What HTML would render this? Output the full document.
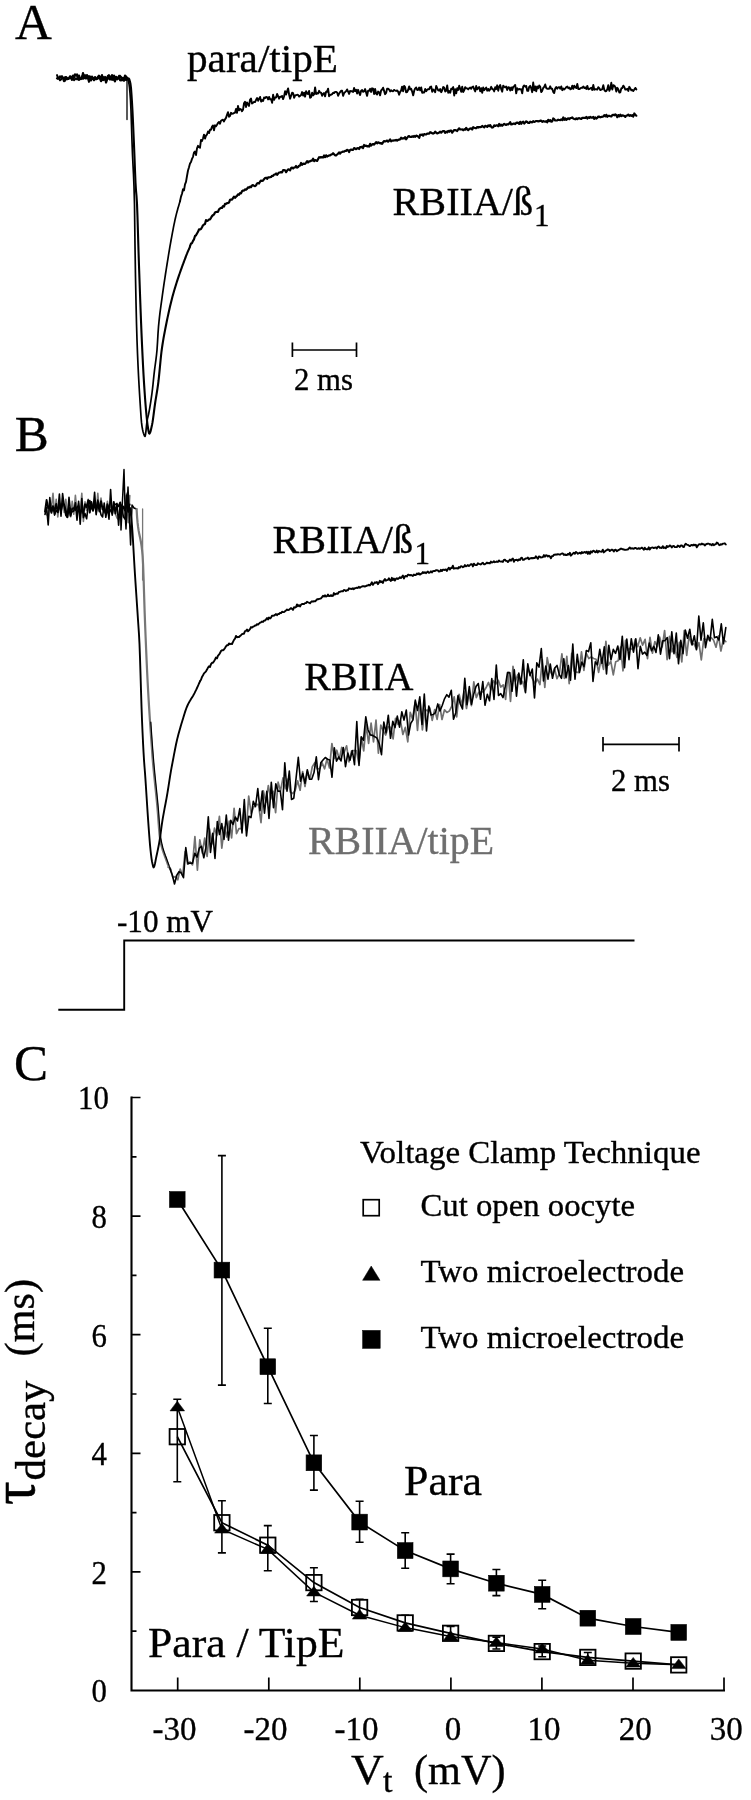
<!DOCTYPE html>
<html lang="en">
<head>
<meta charset="utf-8">
<title>Figure: sodium current decay, para/tipE vs RBIIA</title>
<style>
html,body{margin:0;padding:0;background:#fff;}
svg{display:block;will-change:transform;}
text{font-family:"Liberation Serif", "DejaVu Serif", serif;}
</style>
</head>
<body>
<svg width="751" height="1800" viewBox="0 0 751 1800">
<rect width="751" height="1800" fill="#fff"/>
<g fill="none" stroke="#000" stroke-linejoin="round" stroke-linecap="round">
<path d="M57.0 78.3L58.0 78.9L59.0 77.7L60.0 76.4L61.0 77.3L62.0 76.2L63.0 78.4L64.0 81.1L65.0 77.3L66.0 77.0L67.0 79.3L68.0 79.0L69.0 78.5L70.0 76.3L71.0 78.2L72.0 79.8L73.0 75.5L74.0 77.3L75.0 74.3L76.0 75.6L77.0 74.4L78.0 77.8L79.0 75.6L80.0 78.9L81.0 78.6L82.0 77.9L83.0 73.0L84.0 77.2L85.0 78.2L86.0 78.5L87.0 75.1L88.0 77.3L89.0 76.2L90.0 76.6L91.0 80.5L92.0 76.6L93.0 78.2L94.0 80.2L95.0 77.1L96.0 78.1L97.0 78.5L98.0 78.4L99.0 75.7L100.0 78.5L101.0 81.2L102.0 75.1L103.0 80.1L104.0 78.6L105.0 77.0L106.0 82.5L107.0 79.9L108.0 75.8L109.0 78.5L110.0 79.5L111.0 77.9L112.0 79.7L113.0 78.2L114.0 79.7L115.0 81.3L116.0 76.9L117.0 78.7L118.0 77.3L119.0 78.6L120.0 75.8L121.0 77.1L122.0 77.9L123.0 80.2L124.0 80.7L125.0 75.5L126.0 76.6L127.0 79.7" stroke-width="2.2"/>
<path d="M57.0 75.1L58.0 77.6L59.0 78.1L60.0 80.3L61.0 79.4L62.0 77.8L63.0 77.7L64.0 77.9L65.0 80.7L66.0 77.6L67.0 77.8L68.0 78.9L69.0 78.1L70.0 78.0L71.0 76.5L72.0 78.3L73.0 77.6L74.0 80.2L75.0 79.3L76.0 78.3L77.0 79.4L78.0 77.8L79.0 80.0L80.0 78.3L81.0 79.2L82.0 76.2L83.0 78.9L84.0 75.6L85.0 75.0L86.0 77.8L87.0 76.9L88.0 78.6L89.0 81.9L90.0 77.0L91.0 77.3L92.0 78.6L93.0 79.1L94.0 78.0L95.0 78.0L96.0 79.4L97.0 79.1L98.0 76.6L99.0 78.2L100.0 78.4L101.0 76.6L102.0 78.7L103.0 76.9L104.0 79.9L105.0 78.6L106.0 78.4L107.0 77.4L108.0 78.1L109.0 75.1L110.0 76.5L111.0 78.9L112.0 74.9L113.0 79.7L114.0 75.5L115.0 79.5L116.0 76.9L117.0 79.5L118.0 78.5L119.0 75.8L120.0 80.3L121.0 80.6L122.0 78.2L123.0 77.9L124.0 78.0L125.0 76.7L126.0 80.1L127.0 77.4" stroke-width="2"/>
<path d="M127 78L127 119.5" stroke-width="1.3"/>
<path d="M127.5 78.3L128.0 79.2L128.5 81.3L129.0 84.0L129.5 87.7L130.0 93.1L130.5 100.0L131.0 110.8L131.5 125.8L132.0 141.6L132.5 154.8L133.0 164.9L133.5 174.5L134.0 186.6L134.5 204.9L135.0 245.6L135.5 276.8L136.0 302.0L136.5 323.2L137.0 340.0L137.5 353.4L138.0 365.0L138.5 375.3L139.0 384.5L139.5 393.0L140.0 400.9L140.5 408.7L141.0 416.2L141.5 422.4L142.0 426.3L142.5 429.2L143.0 431.5L143.5 433.2L144.0 434.7L144.5 435.9L145.0 436.4L145.5 434.7L146.0 430.6L146.5 425.6L147.0 421.3L147.5 418.6L148.0 416.6L148.5 414.5L149.0 412.0L149.5 409.3L150.0 406.4L150.5 403.3L151.0 400.1L151.5 396.6L152.0 393.0L152.5 388.9L153.0 384.3L153.5 379.4L154.0 374.7L154.5 370.3L155.0 366.5L155.5 362.9L156.0 359.2L156.5 355.0L157.0 350.0L157.5 342.5L158.0 333.6L158.5 326.7L159.0 321.5L159.5 316.8L160.0 312.6L160.5 308.8L161.0 305.1L161.5 301.6L162.0 298.1L162.5 294.4L163.0 290.8L163.5 287.3L164.0 283.9L164.5 280.6L165.0 277.3L165.5 274.0L166.0 270.9L166.5 267.7L167.0 264.5L167.5 261.4L168.0 258.3L168.5 255.2L169.0 252.1L169.5 249.1L170.0 246.2L170.5 243.3L171.0 240.5L171.5 237.8L172.0 235.1L172.5 232.4L173.0 229.8L173.5 227.2L174.0 224.7L174.5 222.3L175.0 219.9L175.5 217.7L176.0 215.6L176.5 213.6L177.0 211.7L177.5 209.9L178.0 208.1L178.5 206.4L179.0 204.7L179.5 203.0L180.0 201.4" stroke-width="1.7"/>
<path d="M180.0 201.3L181.0 196.6L182.0 193.7L183.0 189.3L184.0 190.4L185.0 184.3L186.0 181.9L187.0 176.0L188.0 170.5L189.0 167.2L190.0 163.6L191.0 162.0L192.0 158.9L193.0 156.8L194.0 152.4L195.0 151.6L196.0 155.0L197.0 148.3L198.0 145.8L199.0 147.1L200.0 147.7L201.0 139.9L202.0 141.0L203.0 138.5L204.0 134.6L205.0 138.6L206.0 135.6L207.0 134.5L208.0 131.5L209.0 133.1L210.0 129.8L211.0 129.7L212.0 126.6L213.0 125.5L214.0 130.3L215.0 125.3L216.0 126.3L217.0 124.7L218.0 123.0L219.0 122.0L220.0 123.7L221.0 120.7L222.0 120.1L223.0 119.7L224.0 121.4L225.0 119.4L226.0 117.9L227.0 114.9L228.0 112.2L229.0 116.7L230.0 116.0L231.0 112.8L232.0 113.7L233.0 113.6L234.0 113.0L235.0 112.7L236.0 108.9L237.0 112.9L238.0 106.0L239.0 110.3L240.0 109.0L241.0 109.3L242.0 111.2L243.0 109.8L244.0 103.3L245.0 101.7L246.0 107.0L247.0 102.4L248.0 104.3L249.0 105.9L250.0 99.9L251.0 98.5L252.0 103.6L253.0 102.8L254.0 101.8L255.0 102.1L256.1 99.8L257.1 98.0L258.1 100.8L259.1 98.7L260.1 96.9L261.1 101.6L262.1 100.1L263.1 100.9L264.1 97.5L265.1 98.0L266.1 97.0L267.1 97.1L268.1 99.4L269.1 96.9L270.1 99.3L271.1 99.1L272.1 102.8L273.1 94.8L274.1 99.9L275.1 97.4L276.1 97.5L277.1 94.0L278.1 96.1L279.1 98.7L280.1 96.7L281.1 96.9L282.1 95.9L283.1 99.1L284.1 96.3L285.1 91.2L286.1 94.5L287.1 91.4L288.1 88.4L289.1 94.5L290.1 98.7L291.1 95.6L292.1 92.7L293.1 93.1L294.1 97.8L295.1 95.5L296.1 95.1L297.1 94.8L298.1 94.9L299.1 96.6L300.1 95.9L301.1 95.0L302.1 92.1L303.1 95.6L304.1 92.7L305.1 96.7L306.1 91.2L307.1 93.7L308.1 94.0L309.1 90.9L310.1 97.8L311.1 97.1L312.1 92.6L313.1 95.4L314.1 94.4L315.1 87.5L316.1 94.0L317.1 93.2L318.1 93.5L319.1 90.8L320.1 92.6L321.1 92.7L322.1 95.8L323.1 93.8L324.1 93.0L325.1 96.4L326.1 91.6L327.1 91.9L328.1 88.6L329.1 96.3L330.1 94.9L331.1 94.7L332.1 94.1L333.1 92.8L334.1 93.0L335.1 91.9L336.1 91.9L337.1 92.5L338.1 95.8L339.1 93.5L340.1 92.1L341.1 90.8L342.1 90.7L343.1 95.8L344.1 93.2L345.1 92.2L346.1 91.2L347.1 89.4L348.1 91.7L349.1 93.9L350.1 90.9L351.1 91.3L352.1 91.3L353.1 92.0L354.1 88.0L355.1 91.1L356.1 89.7L357.1 93.6L358.1 89.8L359.1 92.9L360.1 95.0L361.1 90.7L362.1 90.0L363.1 91.8L364.1 91.4L365.1 89.1L366.1 92.4L367.1 95.9L368.1 90.7L369.1 90.8L370.1 88.8L371.1 91.9L372.1 88.3L373.1 88.6L374.1 94.0L375.1 89.0L376.1 93.5L377.1 94.5L378.1 91.6L379.1 92.2L380.1 95.4L381.1 90.5L382.1 89.5L383.1 87.7L384.1 90.9L385.1 94.2L386.1 93.0L387.1 88.6L388.1 88.8L389.1 89.6L390.1 91.4L391.1 90.2L392.1 91.1L393.1 91.3L394.1 89.9L395.1 90.5L396.1 91.0L397.1 90.4L398.1 91.7L399.1 94.8L400.1 91.9L401.1 90.6L402.1 86.6L403.1 91.3L404.1 85.9L405.1 87.2L406.1 92.3L407.1 92.0L408.1 90.0L409.2 86.4L410.2 89.4L411.2 88.7L412.2 91.7L413.2 95.4L414.2 90.7L415.2 88.4L416.2 87.5L417.2 90.0L418.2 89.8L419.2 87.5L420.2 90.4L421.2 87.5L422.2 92.7L423.2 92.5L424.2 92.6L425.2 89.0L426.2 91.2L427.2 89.7L428.2 89.1L429.2 89.2L430.2 87.0L431.2 86.6L432.2 91.8L433.2 89.5L434.2 90.4L435.2 92.2L436.2 85.9L437.2 88.1L438.2 90.3L439.2 90.7L440.2 89.0L441.2 92.2L442.2 90.3L443.2 87.0L444.2 87.6L445.2 91.6L446.2 90.8L447.2 85.4L448.2 92.8L449.2 91.1L450.2 92.8L451.2 88.8L452.2 89.0L453.2 87.1L454.2 95.5L455.2 89.2L456.2 93.3L457.2 88.1L458.2 90.0L459.2 85.7L460.2 88.7L461.2 91.8L462.2 86.7L463.2 92.0L464.2 90.3L465.2 87.1L466.2 88.4L467.2 88.4L468.2 89.4L469.2 88.2L470.2 87.6L471.2 88.8L472.2 87.1L473.2 86.5L474.2 89.3L475.2 91.4L476.2 85.9L477.2 89.4L478.2 87.9L479.2 87.1L480.2 91.3L481.2 88.2L482.2 92.8L483.2 87.5L484.2 90.2L485.2 88.8L486.2 87.6L487.2 90.7L488.2 88.9L489.2 90.7L490.2 89.2L491.2 86.8L492.2 89.0L493.2 89.4L494.2 91.4L495.2 87.2L496.2 89.1L497.2 85.3L498.2 90.7L499.2 86.7L500.2 85.0L501.2 89.1L502.2 91.7L503.2 85.7L504.2 86.7L505.2 87.4L506.2 86.6L507.2 90.0L508.2 87.3L509.2 87.5L510.2 90.5L511.2 87.4L512.2 90.1L513.2 86.9L514.2 86.3L515.2 84.9L516.2 93.4L517.2 88.3L518.2 89.6L519.2 89.0L520.2 89.4L521.2 89.2L522.2 93.4L523.2 86.6L524.2 85.4L525.2 86.7L526.2 85.9L527.2 90.7L528.2 90.9L529.2 86.8L530.2 85.8L531.2 88.2L532.2 92.2L533.2 82.5L534.2 90.2L535.2 86.5L536.2 91.3L537.2 86.5L538.2 88.3L539.2 85.5L540.2 86.7L541.2 92.1L542.2 90.8L543.2 88.0L544.2 86.9L545.2 84.5L546.2 88.0L547.2 88.8L548.2 88.7L549.2 88.7L550.2 86.3L551.2 88.7L552.2 88.8L553.2 91.8L554.2 93.1L555.2 88.5L556.2 87.1L557.2 88.7L558.2 87.4L559.2 87.1L560.2 88.7L561.3 86.4L562.3 90.2L563.3 88.6L564.3 89.4L565.3 88.4L566.3 87.1L567.3 86.6L568.3 88.2L569.3 87.5L570.3 89.3L571.3 88.8L572.3 85.6L573.3 88.9L574.3 85.7L575.3 87.3L576.3 88.1L577.3 84.0L578.3 89.0L579.3 89.1L580.3 88.4L581.3 87.8L582.3 87.9L583.3 86.5L584.3 88.1L585.3 87.4L586.3 88.9L587.3 85.9L588.3 89.2L589.3 89.0L590.3 88.4L591.3 87.7L592.3 90.0L593.3 84.9L594.3 89.7L595.3 89.2L596.3 89.3L597.3 89.6L598.3 87.2L599.3 88.1L600.3 90.1L601.3 89.7L602.3 89.1L603.3 85.2L604.3 89.9L605.3 91.3L606.3 91.0L607.3 89.2L608.3 85.1L609.3 90.8L610.3 88.3L611.3 82.8L612.3 89.5L613.3 85.2L614.3 85.6L615.3 87.2L616.3 91.5L617.3 87.8L618.3 89.2L619.3 92.6L620.3 92.3L621.3 88.4L622.3 88.0L623.3 85.7L624.3 87.0L625.3 89.6L626.3 89.5L627.3 88.8L628.3 90.9L629.3 86.8L630.3 88.4L631.3 90.3L632.3 89.9L633.3 91.0L634.3 89.5L635.3 87.9L636.3 89.4" stroke-width="1.9"/>
<path d="M128.5 78.3L129.0 78.7L129.5 80.0L130.0 81.8L130.5 84.0L131.0 88.2L131.5 94.9L132.0 102.6L132.5 111.5L133.0 122.0L133.5 133.5L134.0 145.0L134.5 157.4L135.0 170.7L135.5 182.5L136.0 190.7L136.5 196.0L137.0 203.8L137.5 217.2L138.0 233.9L138.5 250.8L139.0 265.7L139.5 279.9L140.0 294.0L140.5 307.7L141.0 320.8L141.5 333.1L142.0 344.4L142.5 355.0L143.0 365.0L143.5 374.2L144.0 382.6L144.5 390.3L145.0 397.5L145.5 404.2L146.0 410.2L146.5 415.5L147.0 420.4L147.5 424.6L148.0 428.0L148.5 431.0L149.0 433.2L149.5 433.6L150.0 432.8L150.5 431.4L151.0 429.4L151.5 427.2L152.0 425.0L152.5 422.4L153.0 419.1L153.5 415.4L154.0 411.5L154.5 407.6L155.0 404.0L155.5 400.7L156.0 397.7L156.5 394.6L157.0 391.5L157.5 388.3L158.0 384.8L158.5 381.0L159.0 376.4L159.5 371.4L160.0 366.1L160.5 360.9L161.0 355.9L161.5 351.5L162.0 347.9L162.5 344.5L163.0 341.4L163.5 338.4L164.0 335.6L164.5 333.0L165.0 330.4L165.5 327.8L166.0 325.3L166.5 322.8L167.0 320.3L167.5 317.9L168.0 315.6L168.5 313.3L169.0 311.0L169.5 308.8L170.0 306.6L170.5 304.5L171.0 302.5L171.5 300.5L172.0 298.5L172.5 296.6L173.0 294.8L173.5 293.0L174.0 291.3L174.5 289.5L175.0 287.9L175.5 286.2L176.0 284.6L176.5 283.0L177.0 281.4L177.5 279.9L178.0 278.4L178.5 276.9L179.0 275.4L179.5 274.0L180.0 272.5L180.5 271.1L181.0 269.7L181.5 268.3L182.0 266.9L182.5 265.5L183.0 264.2L183.5 262.8L184.0 261.5L184.5 260.1L185.0 258.8L185.5 257.5L186.0 256.2L186.5 254.9L187.0 253.7L187.5 252.4L188.0 251.2L188.5 250.1L189.0 249.0L189.5 247.9L190.0 246.8" stroke-width="2.1"/>
<path d="M190.0 246.1L191.0 243.6L192.0 243.2L193.0 240.8L194.0 239.3L195.0 236.0L196.0 235.3L197.0 233.5L198.0 231.8L199.0 229.3L200.0 229.4L201.0 229.0L202.0 227.3L203.0 225.3L204.0 224.5L205.0 224.0L206.0 220.1L207.0 221.0L208.0 220.5L209.0 219.5L210.0 219.3L211.0 217.8L212.0 216.1L213.0 215.1L214.0 214.5L215.0 212.5L216.0 212.0L217.0 211.8L218.0 211.8L219.0 209.3L220.0 208.5L221.0 207.9L222.0 208.0L223.0 206.1L224.0 206.6L225.0 203.9L226.0 203.8L227.0 203.1L228.0 203.1L229.0 202.6L230.0 199.8L231.0 199.5L232.0 199.7L233.0 198.2L234.0 196.7L235.0 197.9L236.0 196.7L237.0 195.9L238.0 194.4L239.0 194.8L240.0 193.1L241.0 193.4L242.0 191.2L243.0 190.5L244.0 190.7L245.0 189.3L246.0 189.8L247.0 188.9L248.0 187.4L249.0 187.6L250.0 186.7L251.0 187.2L252.0 185.4L253.0 185.0L254.0 185.8L255.0 186.1L256.0 185.4L257.0 183.4L258.0 183.0L259.0 183.5L260.0 181.7L261.0 180.5L262.0 180.9L263.0 180.7L264.0 179.2L265.1 178.0L266.1 177.7L267.1 178.9L268.1 177.3L269.1 177.3L270.1 177.2L271.1 177.0L272.1 175.8L273.1 176.0L274.1 174.5L275.1 174.5L276.1 173.5L277.1 174.8L278.1 173.5L279.1 172.5L280.1 172.4L281.1 172.1L282.1 172.4L283.1 170.1L284.1 170.2L285.1 170.3L286.1 172.2L287.1 170.6L288.1 169.3L289.1 169.6L290.1 170.3L291.1 168.1L292.1 167.6L293.1 168.5L294.1 167.5L295.1 167.3L296.1 166.0L297.1 167.6L298.1 167.0L299.1 165.8L300.1 165.5L301.1 163.0L302.1 164.8L303.1 163.7L304.1 163.9L305.1 163.8L306.1 162.6L307.1 161.2L308.1 162.5L309.1 161.3L310.1 161.3L311.1 160.7L312.1 160.6L313.1 158.7L314.1 161.2L315.1 160.1L316.1 160.5L317.1 160.9L318.1 159.0L319.1 157.2L320.1 157.6L321.1 157.1L322.1 157.3L323.1 157.5L324.1 155.5L325.1 157.1L326.1 155.3L327.1 156.5L328.1 155.9L329.1 155.4L330.1 155.3L331.1 154.6L332.1 154.3L333.1 153.2L334.1 154.2L335.1 155.4L336.1 155.3L337.1 154.5L338.1 153.7L339.1 152.3L340.1 153.7L341.1 152.3L342.1 152.0L343.1 151.5L344.1 151.6L345.1 150.9L346.1 150.9L347.1 149.9L348.1 150.2L349.1 152.0L350.1 149.9L351.1 149.5L352.1 149.9L353.1 149.8L354.1 148.1L355.1 148.6L356.1 149.2L357.1 148.4L358.1 148.1L359.1 149.0L360.1 147.0L361.1 147.3L362.1 146.6L363.1 148.0L364.1 145.0L365.1 145.8L366.1 145.7L367.1 146.4L368.1 146.1L369.1 146.5L370.1 143.9L371.1 145.6L372.1 144.5L373.1 144.0L374.1 144.7L375.1 143.4L376.1 142.2L377.1 143.4L378.1 142.3L379.1 142.7L380.1 143.3L381.1 143.1L382.1 143.9L383.1 142.2L384.1 141.0L385.1 141.4L386.1 141.1L387.1 140.6L388.1 141.7L389.1 140.7L390.1 139.4L391.1 141.3L392.1 140.5L393.1 140.7L394.1 140.3L395.1 140.5L396.1 139.8L397.1 140.6L398.1 139.8L399.1 139.6L400.1 139.4L401.1 137.7L402.1 138.6L403.1 138.3L404.1 138.5L405.1 137.1L406.1 139.3L407.1 137.9L408.1 136.6L409.1 136.1L410.1 137.0L411.1 137.0L412.1 136.3L413.1 136.8L414.2 136.0L415.2 136.8L416.2 135.6L417.2 136.0L418.2 136.6L419.2 137.8L420.2 134.7L421.2 135.0L422.2 134.5L423.2 135.7L424.2 134.0L425.2 134.3L426.2 134.5L427.2 133.6L428.2 133.5L429.2 133.7L430.2 132.2L431.2 132.6L432.2 133.3L433.2 133.6L434.2 133.1L435.2 131.7L436.2 132.6L437.2 133.5L438.2 133.1L439.2 132.5L440.2 131.7L441.2 132.7L442.2 131.6L443.2 131.0L444.2 131.2L445.2 132.8L446.2 131.7L447.2 132.3L448.2 130.9L449.2 131.8L450.2 130.5L451.2 130.7L452.2 132.7L453.2 131.2L454.2 130.0L455.2 130.2L456.2 130.4L457.2 131.0L458.2 129.5L459.2 128.3L460.2 129.4L461.2 129.5L462.2 129.4L463.2 130.3L464.2 129.3L465.2 129.6L466.2 127.9L467.2 129.4L468.2 130.2L469.2 129.1L470.2 128.5L471.2 128.3L472.2 129.5L473.2 127.2L474.2 127.7L475.2 128.1L476.2 128.2L477.2 127.1L478.2 127.6L479.2 127.0L480.2 127.2L481.2 126.9L482.2 126.0L483.2 126.7L484.2 127.3L485.2 125.8L486.2 126.2L487.2 126.8L488.2 125.3L489.2 126.2L490.2 125.1L491.2 126.8L492.2 127.6L493.2 127.2L494.2 125.3L495.2 126.0L496.2 125.4L497.2 125.3L498.2 126.3L499.2 123.9L500.2 125.7L501.2 124.7L502.2 125.8L503.2 124.7L504.2 123.9L505.2 124.6L506.2 124.9L507.2 124.2L508.2 124.5L509.2 123.5L510.2 122.2L511.2 124.5L512.2 124.2L513.2 123.7L514.2 123.5L515.2 124.2L516.2 122.9L517.2 122.6L518.2 122.9L519.2 123.9L520.2 121.8L521.2 123.8L522.2 122.2L523.2 121.7L524.2 123.5L525.2 122.4L526.2 121.3L527.2 122.0L528.2 122.9L529.2 123.0L530.2 121.7L531.2 122.2L532.2 122.4L533.2 121.2L534.2 121.9L535.2 121.5L536.2 121.0L537.2 121.0L538.2 121.4L539.2 121.2L540.2 120.7L541.2 120.7L542.2 121.9L543.2 121.1L544.2 121.5L545.2 121.7L546.2 121.1L547.2 122.4L548.2 119.8L549.2 121.1L550.2 120.1L551.2 121.7L552.2 121.5L553.2 118.5L554.2 119.2L555.2 120.5L556.2 120.5L557.2 120.4L558.2 119.7L559.2 120.0L560.2 120.1L561.2 119.4L562.3 120.2L563.3 117.5L564.3 119.8L565.3 118.4L566.3 119.9L567.3 118.9L568.3 118.3L569.3 119.2L570.3 118.1L571.3 118.0L572.3 117.4L573.3 118.6L574.3 119.0L575.3 119.3L576.3 118.3L577.3 119.2L578.3 118.3L579.3 118.2L580.3 118.6L581.3 118.9L582.3 117.8L583.3 117.8L584.3 117.8L585.3 117.9L586.3 117.0L587.3 118.5L588.3 117.3L589.3 117.9L590.3 116.9L591.3 117.7L592.3 117.7L593.3 117.0L594.3 118.9L595.3 117.5L596.3 118.6L597.3 117.9L598.3 116.5L599.3 116.7L600.3 117.3L601.3 116.9L602.3 116.8L603.3 116.5L604.3 115.2L605.3 116.4L606.3 114.8L607.3 116.8L608.3 115.9L609.3 115.8L610.3 116.2L611.3 116.5L612.3 115.1L613.3 114.8L614.3 115.3L615.3 114.4L616.3 115.2L617.3 117.2L618.3 115.1L619.3 116.4L620.3 114.7L621.3 116.0L622.3 115.4L623.3 115.6L624.3 116.0L625.3 116.9L626.3 115.6L627.3 115.5L628.3 114.6L629.3 115.8L630.3 115.1L631.3 115.9L632.3 115.1L633.3 116.5L634.3 113.5L635.3 114.8L636.3 115.7" stroke-width="2.2"/>
<path d="M292.4 350H356.5M292.4 342.5V357M356.5 342.5V357" stroke-width="1.7" stroke-linecap="butt"/>
</g>
<g fill="none" stroke-linejoin="round" stroke-linecap="round">
<path d="M45.0 511.9L46.6 514.8L48.2 513.5L49.8 501.2L51.4 508.3L53.0 493.3L54.6 514.4L56.2 499.4L57.8 517.0L59.4 504.3L61.0 512.6L62.6 498.3L64.2 512.4L65.8 499.3L67.4 512.9L69.0 510.8L70.6 516.8L72.2 501.4L73.8 514.3L75.4 495.4L77.0 512.4L78.6 503.4L80.2 514.7L81.8 493.3L83.4 521.4L85.0 501.7L86.6 510.4L88.2 499.4L89.8 510.0L91.4 503.5L93.0 506.0L94.6 503.9L96.2 513.9L97.8 493.3L99.4 511.9L101.0 498.0L102.6 509.7L104.2 512.2L105.8 513.0L107.4 501.3L109.0 512.0L110.6 503.5L112.2 509.9L113.8 504.2L115.4 513.9L117.0 518.0L118.6 519.7L120.2 505.3L121.8 514.8L123.4 509.1L125.0 509.9L126.6 493.3L128.2 522.6L129.8 495.6" stroke="#777" stroke-width="1.6"/>
<path d="M45.0 514.4L46.6 507.3L48.2 525.0L49.8 497.5L51.4 511.6L53.0 505.9L54.6 515.1L56.2 510.3L57.8 512.0L59.4 494.1L61.0 516.1L62.6 493.5L64.2 505.9L65.8 515.3L67.4 517.4L69.0 497.3L70.6 512.3L72.2 511.7L73.8 511.0L75.4 502.9L77.0 520.3L78.6 501.4L80.2 524.2L81.8 498.6L83.4 517.7L85.0 513.4L86.6 518.8L88.2 506.1L89.8 500.5L91.4 507.7L93.0 510.8L94.6 492.3L96.2 514.6L97.8 500.1L99.4 507.5L101.0 514.7L102.6 517.0L104.2 503.0L105.8 517.3L107.4 507.4L109.0 519.2L110.6 489.5L112.2 515.2L113.8 504.9L115.4 504.4L117.0 503.4L118.6 525.3L120.2 504.3L121.8 506.2L123.4 516.9L125.0 519.1L126.6 495.0L128.2 510.0L129.8 504.2" stroke="#000" stroke-width="1.6"/>
<path d="M45.0 511.3L46.6 499.9L48.2 508.3L49.8 505.9L51.4 512.9L53.0 506.6L54.6 511.3L56.2 503.9L57.8 512.4L59.4 503.4L61.0 511.0L62.6 503.3L64.2 504.7L65.8 510.3L67.4 517.0L69.0 507.3L70.6 515.9L72.2 508.7L73.8 508.1L75.4 510.0L77.0 507.2L78.6 506.0L80.2 513.9L81.8 509.3L83.4 513.1L85.0 504.3L86.6 507.2L88.2 500.3L89.8 512.6L91.4 501.9L93.0 510.6L94.6 502.5L96.2 511.4L97.8 501.9L99.4 511.0L101.0 501.1L102.6 509.3L104.2 508.8L105.8 513.8L107.4 504.2L109.0 508.6L110.6 510.6L112.2 513.4L113.8 501.9L115.4 513.6L117.0 504.6L118.6 506.3L120.2 502.4L121.8 509.5L123.4 506.6L125.0 510.5L126.6 502.3L128.2 511.9L129.8 507.8" stroke="#000" stroke-width="1.9"/>
<path d="M120.5 505L121 530L122.5 500L124 469.5L125.2 515L126 529L128 487L129.5 520L130.6 545L132 505L134 508L136.6 509" stroke="#000" stroke-width="1.5"/>
<path d="M142.6 509V580" stroke="#777" stroke-width="1.3"/>
<path d="M136.6 509.0L137.1 517.4L137.6 522.9L138.1 527.0L138.6 530.4L139.1 533.1L139.6 535.5L140.1 537.8L140.6 540.2L141.1 543.0L141.6 546.3L142.1 550.5L142.6 555.8L143.1 564.7L143.6 578.7L144.1 594.9L144.6 610.9L145.1 624.4L145.6 636.8L146.1 648.8L146.6 660.4L147.1 671.2L147.6 681.3L148.1 690.5L148.6 699.2L149.1 707.4L149.6 715.3L150.1 722.9L150.6 730.2L151.1 737.3L151.6 744.2L152.1 750.8L152.5 757.0L153.0 762.9L153.5 768.4L154.0 773.6L154.5 778.5L155.0 783.4L155.5 788.1L156.0 792.9L156.5 797.9L157.0 803.0L157.5 808.4L158.0 814.6L158.5 821.6L159.0 828.4L159.5 834.2L160.0 838.1L160.5 840.9L161.0 843.4L161.5 845.6L162.0 847.5L162.5 849.3L163.0 850.9L163.5 852.4L164.0 853.8L164.5 855.2L165.0 856.5L165.5 857.8L166.0 859.2L166.5 860.6L167.0 862.0L167.5 863.4L168.0 864.8" stroke="#777" stroke-width="2.2"/>
<path d="M168.0 867.0L170.4 868.5L172.9 877.7L175.3 876.4L177.8 879.8L180.2 869.0L182.7 875.6L185.1 851.5L187.6 864.2L190.0 861.9L192.5 864.9L194.9 836.6L197.4 870.2L199.8 839.8L202.3 853.0L204.7 838.2L207.1 856.4L209.6 829.0L212.0 843.8L214.5 828.2L216.9 835.4L219.4 816.3L221.8 848.1L224.3 827.2L226.7 837.0L229.2 821.2L231.6 837.9L234.1 808.3L236.5 833.6L238.9 828.7L241.4 828.6L243.8 811.9L246.3 830.2L248.7 796.1L251.2 813.5L253.6 807.2L256.1 804.7L258.5 804.3L261.0 822.6L263.4 790.9L265.9 802.5L268.3 785.5L270.8 799.1L273.2 791.2L275.6 812.6L278.1 782.2L280.5 790.9L283.0 777.8L285.4 788.7L287.9 779.0L290.3 792.1L292.8 793.5L295.2 790.4L297.7 780.9L300.1 790.3L302.6 771.5L305.0 786.5L307.4 771.7L309.9 779.1L312.3 766.7L314.8 762.6L317.2 769.0L319.7 768.7L322.1 762.9L324.6 768.8L327.0 759.0L329.5 768.0L331.9 743.5L334.4 758.4L336.8 750.2L339.3 759.2L341.7 747.3L344.1 752.4L346.6 745.8L349.0 761.8L351.5 751.1L353.9 750.5L356.4 750.7L358.8 763.3L361.3 737.0L363.7 750.8L366.2 724.9L368.6 743.4L371.1 723.0L373.5 741.8L376.0 720.1L378.4 753.2L380.8 725.1L383.3 730.9L385.7 735.0L388.2 726.7L390.6 727.3L393.1 738.8L395.5 718.4L398.0 724.4L400.4 720.3L402.9 734.5L405.3 727.4L407.8 741.8L410.2 712.3L412.6 719.1L415.1 702.2L417.5 730.4L420.0 699.9L422.4 730.0L424.9 709.3L427.3 710.9L429.8 707.8L432.2 720.3L434.7 709.5L437.1 719.3L439.6 704.7L442.0 719.5L444.5 709.8L446.9 712.4L449.3 711.1L451.8 706.2L454.2 696.8L456.7 716.9L459.1 694.3L461.6 705.2L464.0 691.9L466.5 708.5L468.9 693.5L471.4 705.7L473.8 681.8L476.3 697.7L478.7 692.4L481.2 692.2L483.6 691.5L486.0 687.8L488.5 682.4L490.9 689.9L493.4 680.7L495.8 684.1L498.3 680.3L500.7 687.0L503.2 684.8L505.6 699.4L508.1 672.3L510.5 701.5L513.0 666.3L515.4 681.4L517.8 674.5L520.3 684.4L522.7 681.4L525.2 691.3L527.6 668.6L530.1 673.8L532.5 678.9L535.0 683.4L537.4 679.1L539.9 684.6L542.3 659.7L544.8 687.5L547.2 657.7L549.7 670.6L552.1 674.6L554.5 668.5L557.0 678.7L559.4 673.5L561.9 653.9L564.3 678.5L566.8 656.4L569.2 683.7L571.7 653.4L574.1 671.0L576.6 672.2L579.0 672.6L581.5 651.9L583.9 670.5L586.3 653.4L588.8 658.5L591.2 657.1L593.7 658.5L596.1 659.3L598.6 672.3L601.0 659.2L603.5 669.3L605.9 641.3L608.4 665.1L610.8 661.4L613.3 674.9L615.7 661.7L618.2 660.7L620.6 647.0L623.0 670.8L625.5 640.4L627.9 650.2L630.4 648.0L632.8 649.7L635.3 639.3L637.7 646.7L640.2 637.8L642.6 645.2L645.1 639.4L647.5 658.6L650.0 637.3L652.4 653.2L654.9 641.5L657.3 646.7L659.7 637.1L662.2 647.0L664.6 630.6L667.1 659.7L669.5 636.4L672.0 651.9L674.4 645.5L676.9 657.4L679.3 642.3L681.8 662.0L684.2 630.7L686.7 655.5L689.1 636.0L691.5 644.0L694.0 643.8L696.4 649.0L698.9 642.7L701.3 660.0L703.8 638.7L706.2 639.7L708.7 639.6L711.1 637.7L713.6 640.2L716.0 647.2L718.5 635.9L720.9 651.0L723.4 639.4L725.8 641.6" stroke="#707070" stroke-width="1.7"/>
<path d="M150.8 722.0L151.3 729.4L151.8 736.6L152.3 743.5L152.8 750.1L153.3 756.4L153.8 762.3L154.3 767.9L154.8 773.1L155.3 778.1L155.8 783.0L156.3 787.7L156.8 792.6L157.3 797.5L157.8 802.6L158.3 808.0L158.8 814.2L159.3 821.2L159.8 828.0L160.3 833.9L160.8 838.0L161.3 840.8L161.8 843.3L162.3 845.5L162.8 847.5L163.3 849.3L163.8 850.9L164.3 852.4L164.8 853.8L165.3 855.2L165.8 856.5L166.3 857.8L166.8 859.2L167.3 860.6L167.8 862.0L168.3 863.4L168.8 864.8L169.3 866.2L169.8 867.5L170.3 868.8L170.8 870.0" stroke="#000" stroke-width="1.2"/>
<path d="M170.0 869.0L172.3 875.0L174.5 884.0L176.8 875.2L179.0 871.7L181.3 873.0L183.5 877.7L185.8 847.6L188.0 863.8L190.3 863.0L192.5 863.2L194.8 853.2L197.0 857.2L199.3 848.2L201.5 846.3L203.8 857.8L206.0 847.1L208.3 816.7L210.5 852.4L212.8 833.2L215.0 858.5L217.3 821.5L219.5 834.5L221.8 823.6L224.0 839.4L226.3 815.1L228.5 840.1L230.8 820.3L233.0 824.5L235.3 817.0L237.5 821.0L239.8 808.6L242.0 833.0L244.3 799.5L246.5 836.0L248.8 816.2L251.0 817.6L253.3 801.3L255.5 806.6L257.8 788.5L260.0 810.7L262.3 791.1L264.5 813.1L266.8 791.3L269.0 818.4L271.3 782.4L273.5 807.6L275.8 783.8L278.0 791.2L280.3 791.0L282.5 809.6L284.8 762.8L287.0 791.2L289.3 771.1L291.5 799.5L293.8 798.2L296.0 778.9L298.3 757.4L300.5 781.2L302.8 773.4L305.0 783.3L307.3 769.7L309.5 779.2L311.8 779.1L314.0 772.6L316.3 756.8L318.5 779.7L320.8 762.8L323.0 760.0L325.3 757.5L327.5 759.2L329.8 759.9L332.0 777.3L334.3 747.7L336.5 761.1L338.8 756.8L341.0 761.0L343.3 747.5L345.5 766.6L347.8 753.1L350.0 760.2L352.3 750.5L354.5 764.6L356.8 721.6L359.0 765.4L361.3 736.9L363.5 740.3L365.8 716.9L368.0 729.7L370.3 734.9L372.5 735.4L374.8 736.7L377.0 738.2L379.3 743.7L381.5 754.6L383.8 722.0L386.0 732.6L388.3 715.2L390.5 738.3L392.8 721.2L395.0 727.6L397.3 716.1L399.5 727.1L401.8 711.8L404.0 720.1L406.3 710.0L408.5 735.0L410.8 723.2L413.0 719.9L415.3 700.1L417.5 710.5L419.8 696.9L422.0 724.4L424.3 694.0L426.5 730.9L428.8 706.0L431.0 715.0L433.3 714.5L435.5 712.7L437.8 703.9L440.0 710.9L442.3 705.3L444.5 698.8L446.8 694.7L449.0 697.1L451.3 690.3L453.5 719.3L455.8 712.7L458.0 695.6L460.3 704.0L462.5 709.0L464.8 678.2L467.0 704.7L469.3 686.5L471.5 704.3L473.8 693.7L476.0 686.6L478.3 683.5L480.5 699.3L482.8 681.6L485.0 705.3L487.3 694.3L489.5 700.8L491.8 678.5L494.0 699.5L496.3 665.0L498.5 695.5L500.8 693.7L503.0 697.6L505.3 686.4L507.5 672.6L509.8 672.6L512.0 691.3L514.3 669.8L516.5 696.2L518.8 673.0L521.0 683.8L523.3 659.7L525.5 692.8L527.8 663.8L530.0 675.6L532.3 669.0L534.5 697.9L536.8 662.9L539.0 667.2L541.3 648.6L543.5 680.9L545.8 666.0L548.0 679.2L550.3 664.0L552.5 678.3L554.8 668.0L557.0 665.4L559.3 674.5L561.5 678.4L563.8 658.7L566.0 677.8L568.3 665.5L570.5 680.2L572.8 644.1L575.0 679.2L577.3 654.4L579.5 672.4L581.8 662.0L584.0 666.7L586.3 650.6L588.5 651.6L590.8 642.8L593.0 681.5L595.3 661.9L597.5 664.8L599.8 649.3L602.0 663.3L604.3 646.8L606.5 674.0L608.8 645.2L611.0 659.8L613.3 649.3L615.5 653.4L617.8 646.0L620.0 659.5L622.3 636.2L624.5 667.7L626.8 639.0L629.0 659.7L631.3 638.7L633.5 652.1L635.8 638.8L638.0 668.6L640.3 646.2L642.5 654.1L644.8 652.2L647.0 655.5L649.3 643.0L651.5 650.8L653.8 646.4L656.0 652.4L658.3 634.8L660.5 654.1L662.8 640.8L665.0 640.6L667.3 637.6L669.5 658.6L671.8 631.9L674.0 653.7L676.3 633.1L678.5 663.8L680.8 640.4L683.0 653.7L685.3 630.0L687.5 638.3L689.8 629.3L692.0 645.0L694.3 635.7L696.5 649.8L698.8 616.0L701.0 640.2L703.3 622.8L705.5 647.6L707.8 635.3L710.0 640.9L712.3 619.3L714.5 637.8L716.8 636.7L719.0 640.0L721.3 623.9L723.5 643.8L725.8 627.6" stroke="#000" stroke-width="1.6"/>
<path d="M130.0 508.5L130.5 511.6L131.0 515.4L131.5 520.0L132.0 525.7L132.5 532.8L133.0 540.8L133.5 549.5L134.0 558.3L134.5 566.9L135.0 575.0L135.5 582.6L136.0 590.1L136.5 597.5L137.0 605.0L137.5 612.4L138.0 620.0L138.5 627.2L139.0 634.6L139.5 644.3L140.0 657.7L140.5 673.6L141.0 690.4L141.5 706.4L142.0 720.0L142.5 731.5L143.0 742.1L143.5 751.6L144.0 760.0L144.5 766.7L145.0 773.0L145.5 780.1L146.0 787.7L146.5 795.5L147.0 803.3L147.5 811.0L148.0 818.4L148.5 825.4L149.0 832.2L149.5 838.8L150.0 844.9L150.5 850.0L151.0 854.4L151.5 858.3L152.0 861.5L152.5 863.9L153.0 866.1L153.5 867.4L154.0 867.0L154.5 865.6L155.0 863.5L155.5 861.0L156.0 858.4L156.5 856.0L157.0 853.8L157.5 851.4L158.0 849.0L158.5 846.5L159.0 843.8L159.5 841.0L160.0 838.0L160.5 834.6L161.0 830.7L161.5 826.8L162.0 823.4L162.5 820.2L163.0 817.2L163.5 814.4L164.0 811.6L164.5 808.9L165.0 806.3L165.5 803.7L166.0 801.0L166.5 798.3L167.0 795.5L167.5 792.6L168.0 789.5L168.5 786.4L169.0 783.1L169.5 779.8L170.0 776.6L170.5 773.6L171.0 770.7L171.5 767.9L172.0 765.3L172.5 762.6L173.0 760.0L173.5 757.4L174.0 754.7L174.5 752.1L175.0 749.5L175.5 747.0L176.0 744.5L176.5 742.2L177.0 740.0L177.5 737.9L178.0 736.0L178.5 734.0L179.0 732.2L179.5 730.4L180.0 728.7L180.5 726.9L181.0 725.3L181.5 723.6L182.0 722.0L182.5 720.3L183.0 718.7L183.5 717.0L184.0 715.4L184.5 713.7L185.0 712.1L185.5 710.6L186.0 709.2L186.5 707.8L187.0 706.6L187.5 705.5L188.0 704.4L188.5 703.4L189.0 702.5L189.5 701.6L190.0 700.8L190.5 699.9L191.0 699.1L191.5 698.3L192.0 697.5L192.5 696.7L193.0 695.9L193.5 695.0L194.0 694.1L194.5 693.2L195.0 692.2L195.5 691.2L196.0 690.2L196.5 689.1L197.0 688.0L197.5 686.9L198.0 685.8L198.5 684.7L199.0 683.5L199.5 682.4L200.0 681.3" stroke="#000" stroke-width="1.9"/>
<path d="M200.0 681.3L201.0 679.8L202.0 676.9L203.0 675.3L204.0 673.4L205.0 672.4L206.0 671.3L207.0 669.6L208.0 667.6L209.0 666.3L210.0 666.9L211.0 664.1L212.0 662.8L213.0 662.8L214.0 661.2L215.0 659.5L216.0 657.5L217.0 658.4L218.0 655.7L219.0 654.7L220.0 653.1L221.0 651.0L222.0 650.1L223.0 650.4L224.0 649.5L225.0 648.0L226.0 646.3L227.0 645.2L228.0 645.2L229.0 643.4L230.0 644.3L231.0 643.7L232.0 644.1L233.0 641.8L234.0 639.8L235.0 638.7L236.0 635.9L237.0 637.3L238.0 636.9L239.0 637.0L240.0 636.0L241.0 635.2L242.0 634.2L243.0 633.8L244.0 633.7L245.0 631.1L246.0 630.9L247.0 629.5L248.0 631.2L249.0 630.3L250.0 629.2L251.0 627.1L252.0 627.6L253.0 626.7L254.0 626.3L255.0 625.5L256.0 625.5L257.0 624.2L258.0 624.7L259.0 623.6L260.0 622.7L261.0 622.3L262.0 621.5L263.0 622.0L264.0 620.6L265.0 620.5L266.0 619.5L267.0 618.1L268.0 619.5L269.0 617.5L270.0 618.4L271.0 617.7L272.0 615.6L273.0 615.7L274.0 615.6L275.0 614.9L276.0 614.1L277.0 615.2L278.0 614.0L279.0 614.0L280.0 613.0L281.0 613.1L282.0 611.8L283.0 612.0L284.0 612.1L285.0 611.2L286.0 610.4L287.0 609.5L288.0 610.1L289.0 609.8L290.0 608.9L291.0 608.1L292.0 608.8L293.0 609.9L294.0 607.3L295.0 607.5L296.0 607.1L297.0 604.4L298.0 606.2L299.0 605.1L300.0 606.4L301.0 604.7L302.0 604.0L303.0 604.0L304.0 604.0L305.0 603.1L306.0 603.1L307.0 601.7L308.0 602.3L309.0 602.7L310.0 603.3L311.0 602.0L312.0 601.3L313.0 601.7L314.0 601.2L315.0 601.4L316.0 600.6L317.0 599.3L318.0 599.3L319.0 598.9L320.0 598.7L321.0 598.3L322.0 597.1L323.0 595.8L324.0 596.6L325.0 595.2L326.0 596.6L327.0 596.2L328.0 594.6L329.0 596.1L330.0 596.0L331.0 595.1L331.9 596.0L332.9 595.9L333.9 593.1L334.9 594.6L335.9 593.8L336.9 593.5L337.9 593.7L338.9 592.0L339.9 591.9L340.9 591.4L341.9 591.2L342.9 591.4L343.9 590.0L344.9 590.1L345.9 591.1L346.9 590.3L347.9 590.4L348.9 588.3L349.9 588.9L350.9 588.8L351.9 589.0L352.9 588.3L353.9 589.2L354.9 588.2L355.9 588.0L356.9 587.7L357.9 588.0L358.9 586.8L359.9 587.8L360.9 587.0L361.9 586.5L362.9 586.2L363.9 586.3L364.9 586.5L365.9 586.2L366.9 585.4L367.9 585.6L368.9 584.8L369.9 585.4L370.9 584.1L371.9 582.3L372.9 584.8L373.9 583.5L374.9 582.3L375.9 582.8L376.9 582.0L377.9 584.2L378.9 582.7L379.9 580.8L380.9 582.3L381.9 581.3L382.9 582.9L383.9 580.3L384.9 579.1L385.9 580.7L386.9 580.2L387.9 579.9L388.9 578.3L389.9 580.1L390.9 580.9L391.9 577.8L392.9 580.1L393.9 578.5L394.9 580.6L395.9 578.9L396.9 578.2L397.9 579.0L398.9 578.3L399.9 577.2L400.9 578.0L401.9 576.9L402.9 575.6L403.9 578.5L404.9 576.4L405.9 576.0L406.9 576.5L407.9 574.8L408.9 574.8L409.9 575.3L410.9 575.0L411.9 575.3L412.9 576.0L413.9 574.5L414.9 575.1L415.9 575.0L416.9 573.4L417.9 574.3L418.9 573.2L419.9 574.6L420.9 573.9L421.9 573.4L422.9 572.1L423.9 573.1L424.9 572.2L425.9 573.2L426.9 572.3L427.9 571.6L428.9 572.8L429.9 572.5L430.9 571.3L431.9 572.5L432.9 571.1L433.9 571.0L434.9 571.1L435.9 570.3L436.9 570.3L437.9 570.4L438.9 571.6L439.9 571.4L440.9 569.8L441.9 571.1L442.9 569.6L443.9 569.8L444.9 570.0L445.9 569.4L446.9 570.9L447.9 569.0L448.9 567.7L449.9 569.6L450.9 568.0L451.9 568.0L452.9 565.7L453.9 568.7L454.9 568.4L455.9 568.2L456.9 568.2L457.9 568.6L458.9 567.1L459.9 567.7L460.9 566.2L461.9 566.4L462.9 567.3L463.9 566.7L464.9 565.1L465.9 566.3L466.9 565.8L467.9 565.1L468.9 566.0L469.9 565.1L470.9 564.1L471.9 564.3L472.9 566.4L473.9 563.7L474.9 564.9L475.9 565.1L476.9 565.0L477.9 563.3L478.9 563.9L479.9 564.2L480.9 564.5L481.9 563.3L482.9 562.7L483.9 564.3L484.9 564.2L485.9 563.5L486.9 562.6L487.9 563.3L488.9 562.9L489.9 563.4L490.9 561.6L491.9 562.5L492.9 562.2L493.9 561.3L494.9 562.2L495.9 561.9L496.9 561.5L497.9 562.0L498.9 560.4L499.9 561.4L500.9 561.6L501.9 561.4L502.9 561.9L503.9 559.9L504.9 559.6L505.9 560.9L506.9 560.9L507.9 562.1L508.9 560.8L509.9 559.5L510.9 560.7L511.9 559.3L512.9 558.6L513.9 561.8L514.9 559.9L515.9 560.0L516.9 559.8L517.9 560.7L518.9 559.4L519.9 560.0L520.9 558.1L521.9 557.7L522.9 559.8L523.9 559.7L524.9 558.9L525.9 558.5L526.9 558.4L527.9 557.6L528.9 559.2L529.9 558.4L530.9 558.2L531.9 558.0L532.9 558.4L533.9 557.9L534.9 558.0L535.9 556.3L536.9 557.6L537.9 558.8L538.9 556.5L539.9 556.7L540.9 557.5L541.9 557.4L542.9 557.0L543.9 555.1L544.9 556.7L545.9 555.3L546.9 555.5L547.9 556.5L548.9 555.7L549.9 556.5L550.9 558.2L551.9 556.3L552.9 556.1L553.9 554.7L554.9 554.8L555.9 554.4L556.9 554.7L557.9 554.2L558.9 554.4L559.9 554.7L560.9 554.0L561.9 553.5L562.9 553.5L563.9 554.9L564.9 554.4L565.9 555.1L566.9 555.0L567.9 553.9L568.9 554.6L569.9 552.8L570.9 555.7L571.9 554.7L572.9 553.5L573.9 552.7L574.9 553.8L575.9 551.9L576.9 552.7L577.9 553.8L578.9 553.2L579.9 552.7L580.9 553.7L581.9 552.1L582.9 553.0L583.9 552.3L584.9 552.0L585.9 552.9L586.9 551.7L587.9 553.9L588.9 551.8L589.9 553.8L590.9 551.3L591.9 552.5L592.9 551.0L593.9 550.8L594.8 551.9L595.8 552.3L596.8 550.6L597.8 552.5L598.8 550.9L599.8 551.5L600.8 551.6L601.8 551.7L602.8 549.7L603.8 552.4L604.8 551.5L605.8 550.6L606.8 550.1L607.8 549.4L608.8 549.6L609.8 551.1L610.8 550.3L611.8 549.6L612.8 550.0L613.8 551.6L614.8 550.0L615.8 549.7L616.8 551.2L617.8 550.4L618.8 550.0L619.8 549.4L620.8 548.6L621.8 548.8L622.8 549.3L623.8 549.5L624.8 549.8L625.8 549.9L626.8 549.6L627.8 549.5L628.8 548.5L629.8 547.5L630.8 548.7L631.8 548.3L632.8 548.5L633.8 548.7L634.8 547.9L635.8 547.9L636.8 548.7L637.8 548.8L638.8 548.1L639.8 548.9L640.8 548.3L641.8 547.6L642.8 548.4L643.8 549.8L644.8 547.7L645.8 549.1L646.8 549.2L647.8 549.2L648.8 547.3L649.8 549.5L650.8 547.9L651.8 547.6L652.8 547.5L653.8 548.1L654.8 547.6L655.8 547.4L656.8 548.5L657.8 546.8L658.8 546.5L659.8 547.9L660.8 547.8L661.8 548.0L662.8 546.2L663.8 547.9L664.8 547.4L665.8 548.3L666.8 545.9L667.8 547.0L668.8 546.5L669.8 545.4L670.8 546.0L671.8 547.5L672.8 546.1L673.8 545.9L674.8 547.1L675.8 547.1L676.8 547.1L677.8 545.6L678.8 546.1L679.8 546.9L680.8 545.5L681.8 545.4L682.8 546.6L683.8 547.1L684.8 544.9L685.8 543.7L686.8 544.6L687.8 544.9L688.8 545.5L689.8 546.1L690.8 545.4L691.8 544.9L692.8 545.5L693.8 544.6L694.8 545.3L695.8 544.7L696.8 547.3L697.8 545.8L698.8 544.4L699.8 544.2L700.8 544.6L701.8 543.6L702.8 544.3L703.8 544.2L704.8 545.5L705.8 544.4L706.8 544.0L707.8 543.6L708.8 543.6L709.8 544.5L710.8 544.3L711.8 545.3L712.8 543.9L713.8 545.2L714.8 544.5L715.8 544.2L716.8 542.6L717.8 543.1L718.8 544.7L719.8 545.2L720.8 544.2L721.8 544.6L722.8 543.6L723.8 543.6L724.8 543.3L725.8 544.5" stroke="#000" stroke-width="1.9"/>
<path d="M603 744.4H679M603 737V751.5M679 737V751.5" stroke="#000" stroke-width="1.7" stroke-linecap="butt"/>
<path d="M58.3 1009.8H124.2V940.5H634.5" stroke="#000" stroke-width="1.9" stroke-linecap="butt" stroke-linejoin="miter"/>
</g>
<g fill="none" stroke="#000" stroke-linecap="butt">
<path d="M131.5 1096.5V1690.5H725.0" stroke-width="2.1" stroke-linejoin="miter"/>
<path d="M131.5 1631.2h5M131.5 1571.9h9M131.5 1512.6h5M131.5 1453.3h9M131.5 1394.0h5M131.5 1334.7h9M131.5 1275.4h5M131.5 1216.1h9M131.5 1156.8h5M131.5 1097.5h9M177.7 1690.5v-13M268.8 1690.5v-13M359.8 1690.5v-13M450.9 1690.5v-13M541.9 1690.5v-13M633.0 1690.5v-13M724.0 1690.5v-13" stroke-width="1.7"/>
<path d="M177.3 1199.5L221.9 1270.1L267.8 1366.7L313.9 1462.8L359.6 1522.1L405.2 1550.6L450.6 1568.9L496.4 1583.2L542.2 1594.4L587.8 1618.2L633.2 1626.5L678.7 1632.4" stroke-width="1.7"/>
<path d="M177.3 1436.7L221.9 1522.7L267.8 1545.2L313.9 1582.6L359.6 1607.5L405.2 1622.9L450.6 1633.3L496.4 1643.4L542.2 1651.6L587.8 1657.4L633.2 1661.1L678.7 1664.9" stroke-width="1.7"/>
<path d="M177.3 1407.0L221.9 1529.2L267.8 1549.4L313.9 1592.1L359.6 1615.2L405.2 1627.6L450.6 1636.5L496.4 1642.5L542.2 1649.0L587.8 1660.3L633.2 1663.2L678.7 1664.7" stroke-width="1.5"/>
<path d="M221.9 1155.6V1385.1M217.9 1155.6h8M217.9 1385.1h8M267.8 1328.2V1403.5M263.8 1328.2h8M263.8 1403.5h8M313.9 1435.5V1490.1M309.9 1435.5h8M309.9 1490.1h8M359.6 1501.3V1542.2M355.6 1501.3h8M355.6 1542.2h8M405.2 1532.8V1568.3M401.2 1532.8h8M401.2 1568.3h8M450.6 1554.1V1583.8M446.6 1554.1h8M446.6 1583.8h8M496.4 1569.5V1595.6M492.4 1569.5h8M492.4 1595.6h8M542.2 1580.2V1608.7M538.2 1580.2h8M538.2 1608.7h8M177.3 1399.3V1481.8M173.3 1399.3h8M173.3 1481.8h8M221.9 1500.7V1552.9M217.9 1500.7h8M217.9 1552.9h8M267.8 1525.6V1570.7M263.8 1525.6h8M263.8 1570.7h8M313.9 1567.7V1601.5M309.9 1567.7h8M309.9 1601.5h8M359.6 1599.2V1615.2M355.6 1599.2h8M355.6 1615.2h8M405.2 1615.2V1630.0M401.2 1615.2h8M401.2 1630.0h8M450.6 1626.5V1639.5M446.6 1626.5h8M446.6 1639.5h8M496.4 1637.1V1649.0M492.4 1637.1h8M492.4 1649.0h8M542.2 1646.0V1656.7M538.2 1646.0h8M538.2 1656.7h8M587.8 1652.5V1662.0M583.8 1652.5h8M583.8 1662.0h8" stroke-width="1.6"/>
</g>
<g stroke="#000">
<rect x="169.5" y="1191.6" width="15.6" height="15.8" fill="#000" stroke-width="0.6"/>
<rect x="214.1" y="1262.2" width="15.6" height="15.8" fill="#000" stroke-width="0.6"/>
<rect x="260.0" y="1358.8" width="15.6" height="15.8" fill="#000" stroke-width="0.6"/>
<rect x="306.1" y="1454.9" width="15.6" height="15.8" fill="#000" stroke-width="0.6"/>
<rect x="351.8" y="1514.2" width="15.6" height="15.8" fill="#000" stroke-width="0.6"/>
<rect x="397.4" y="1542.7" width="15.6" height="15.8" fill="#000" stroke-width="0.6"/>
<rect x="442.8" y="1561.0" width="15.6" height="15.8" fill="#000" stroke-width="0.6"/>
<rect x="488.6" y="1575.3" width="15.6" height="15.8" fill="#000" stroke-width="0.6"/>
<rect x="534.4" y="1586.5" width="15.6" height="15.8" fill="#000" stroke-width="0.6"/>
<rect x="580.0" y="1610.3" width="15.6" height="15.8" fill="#000" stroke-width="0.6"/>
<rect x="625.4" y="1618.6" width="15.6" height="15.8" fill="#000" stroke-width="0.6"/>
<rect x="670.9" y="1624.5" width="15.6" height="15.8" fill="#000" stroke-width="0.6"/>
<path d="M177.3 1401.2L184.6 1410.9H170.0Z" fill="#000" stroke-width="0.5"/>
<path d="M221.9 1523.4L229.2 1533.1H214.6Z" fill="#000" stroke-width="0.5"/>
<path d="M267.8 1543.6L275.1 1553.3H260.5Z" fill="#000" stroke-width="0.5"/>
<path d="M313.9 1586.3L321.2 1596.0H306.6Z" fill="#000" stroke-width="0.5"/>
<path d="M359.6 1609.4L366.9 1619.1H352.3Z" fill="#000" stroke-width="0.5"/>
<path d="M405.2 1621.8L412.5 1631.5H397.9Z" fill="#000" stroke-width="0.5"/>
<path d="M450.6 1630.7L457.9 1640.4H443.3Z" fill="#000" stroke-width="0.5"/>
<path d="M496.4 1636.7L503.7 1646.4H489.1Z" fill="#000" stroke-width="0.5"/>
<path d="M542.2 1643.2L549.5 1652.9H534.9Z" fill="#000" stroke-width="0.5"/>
<path d="M587.8 1654.5L595.1 1664.2H580.5Z" fill="#000" stroke-width="0.5"/>
<path d="M633.2 1657.4L640.5 1667.1H625.9Z" fill="#000" stroke-width="0.5"/>
<path d="M678.7 1658.9L686.0 1668.6H671.4Z" fill="#000" stroke-width="0.5"/>
<rect x="169.6" y="1429.0" width="15.4" height="15.4" fill="none" stroke-width="1.8"/>
<rect x="214.2" y="1515.0" width="15.4" height="15.4" fill="none" stroke-width="1.8"/>
<rect x="260.1" y="1537.5" width="15.4" height="15.4" fill="none" stroke-width="1.8"/>
<rect x="306.2" y="1574.9" width="15.4" height="15.4" fill="none" stroke-width="1.8"/>
<rect x="351.9" y="1599.8" width="15.4" height="15.4" fill="none" stroke-width="1.8"/>
<rect x="397.5" y="1615.2" width="15.4" height="15.4" fill="none" stroke-width="1.8"/>
<rect x="442.9" y="1625.6" width="15.4" height="15.4" fill="none" stroke-width="1.8"/>
<rect x="488.7" y="1635.7" width="15.4" height="15.4" fill="none" stroke-width="1.8"/>
<rect x="534.5" y="1643.9" width="15.4" height="15.4" fill="none" stroke-width="1.8"/>
<rect x="580.1" y="1649.7" width="15.4" height="15.4" fill="none" stroke-width="1.8"/>
<rect x="625.5" y="1653.4" width="15.4" height="15.4" fill="none" stroke-width="1.8"/>
<rect x="671.0" y="1657.2" width="15.4" height="15.4" fill="none" stroke-width="1.8"/>
<rect x="363.2" y="1199.7" width="16" height="16" fill="none" stroke-width="1.7"/>
<path d="M371.2 1266L380 1280.3H362.6Z" fill="#000" stroke-width="0.5"/>
<rect x="362.6" y="1330.4" width="17.6" height="18" fill="#000" stroke-width="0.5"/>
</g>
<g font-family='"Liberation Serif", "DejaVu Serif", serif' fill="#000" stroke="#000" stroke-width="0.35">
<text x="15" y="38.6" font-size="51" text-anchor="start" fill="#000">A</text>
<text x="14.8" y="451.3" font-size="51" text-anchor="start" fill="#000">B</text>
<text x="14" y="1079.6" font-size="51" text-anchor="start" fill="#000">C</text>
<text x="187" y="72" font-size="40" text-anchor="start" fill="#000" textLength="151" lengthAdjust="spacingAndGlyphs">para/tipE</text>
<text x="392.6" y="215" font-size="40" text-anchor="start" fill="#000" textLength="140.5" lengthAdjust="spacingAndGlyphs">RBIIA/ß</text>
<text x="534" y="226" font-size="31" text-anchor="start" fill="#000">1</text>
<text x="294" y="389.5" font-size="31" text-anchor="start" fill="#000" textLength="59" lengthAdjust="spacingAndGlyphs">2 ms</text>
<text x="272.6" y="553.3" font-size="40" text-anchor="start" fill="#000" textLength="140.5" lengthAdjust="spacingAndGlyphs">RBIIA/ß</text>
<text x="414.5" y="564.3" font-size="31" text-anchor="start" fill="#000">1</text>
<text x="304.3" y="689.5" font-size="40" text-anchor="start" fill="#000" textLength="109" lengthAdjust="spacingAndGlyphs">RBIIA</text>
<text x="308" y="853.5" font-size="40" text-anchor="start" fill="#6e6e6e" textLength="186" lengthAdjust="spacingAndGlyphs" stroke="#6e6e6e">RBIIA/tipE</text>
<text x="611" y="791" font-size="31" text-anchor="start" fill="#000" textLength="59" lengthAdjust="spacingAndGlyphs">2 ms</text>
<text x="117" y="932.3" font-size="31" text-anchor="start" fill="#000" textLength="96" lengthAdjust="spacingAndGlyphs">-10 mV</text>
<text x="107.0" y="1702.3" font-size="33.5" text-anchor="end" fill="#000" textLength="15.4" lengthAdjust="spacingAndGlyphs">0</text>
<text x="107.0" y="1583.7" font-size="33.5" text-anchor="end" fill="#000" textLength="15.4" lengthAdjust="spacingAndGlyphs">2</text>
<text x="107.0" y="1465.1" font-size="33.5" text-anchor="end" fill="#000" textLength="15.4" lengthAdjust="spacingAndGlyphs">4</text>
<text x="107.0" y="1346.5" font-size="33.5" text-anchor="end" fill="#000" textLength="15.4" lengthAdjust="spacingAndGlyphs">6</text>
<text x="107.0" y="1227.9" font-size="33.5" text-anchor="end" fill="#000" textLength="15.4" lengthAdjust="spacingAndGlyphs">8</text>
<text x="108.9" y="1109.3" font-size="33.5" text-anchor="end" fill="#000" textLength="30.8" lengthAdjust="spacingAndGlyphs">10</text>
<text x="174.5" y="1739.8" font-size="33" text-anchor="middle" fill="#000">-30</text>
<text x="265.6" y="1739.8" font-size="33" text-anchor="middle" fill="#000">-20</text>
<text x="356.6" y="1739.8" font-size="33" text-anchor="middle" fill="#000">-10</text>
<text x="453.1" y="1739.8" font-size="33" text-anchor="middle" fill="#000">0</text>
<text x="544.1" y="1739.8" font-size="33" text-anchor="middle" fill="#000">10</text>
<text x="635.2" y="1739.8" font-size="33" text-anchor="middle" fill="#000">20</text>
<text x="726.2" y="1739.8" font-size="33" text-anchor="middle" fill="#000">30</text>
<text x="360" y="1163" font-size="32" text-anchor="start" fill="#000" textLength="340.5" lengthAdjust="spacingAndGlyphs">Voltage Clamp Technique</text>
<text x="420.5" y="1216.2" font-size="32.5" text-anchor="start" fill="#000" textLength="214.5" lengthAdjust="spacingAndGlyphs">Cut open oocyte</text>
<text x="420.5" y="1282" font-size="32.5" text-anchor="start" fill="#000" textLength="263.5" lengthAdjust="spacingAndGlyphs">Two microelectrode</text>
<text x="420.5" y="1347.7" font-size="32.5" text-anchor="start" fill="#000" textLength="263.5" lengthAdjust="spacingAndGlyphs">Two microelectrode</text>
<text x="404" y="1495" font-size="43" text-anchor="start" fill="#000" textLength="78" lengthAdjust="spacingAndGlyphs">Para</text>
<text x="148" y="1656.6" font-size="43" text-anchor="start" fill="#000" textLength="196.5" lengthAdjust="spacingAndGlyphs">Para / TipE</text>
<text x="351" y="1784" font-size="43" text-anchor="start" fill="#000" textLength="32.8" lengthAdjust="spacingAndGlyphs">V</text>
<text x="383" y="1791.8" font-size="34" text-anchor="start" fill="#000">t</text>
<text x="414" y="1784" font-size="42" text-anchor="start" fill="#000" textLength="91.5" lengthAdjust="spacingAndGlyphs">(mV)</text>
<g transform="translate(33.6 1505) rotate(-90)">
<text x="0" y="0" font-size="62" text-anchor="start" fill="#000" textLength="23.5" lengthAdjust="spacingAndGlyphs" stroke="#000" stroke-width="0.6">τ</text>
<text x="24.5" y="11.3" font-size="43" text-anchor="start" fill="#000" textLength="100" lengthAdjust="spacingAndGlyphs">decay</text>
<text x="148.5" y="0" font-size="42" text-anchor="start" fill="#000" textLength="77.5" lengthAdjust="spacingAndGlyphs">(ms)</text>
</g>
</g>
</svg>
</body>
</html>
